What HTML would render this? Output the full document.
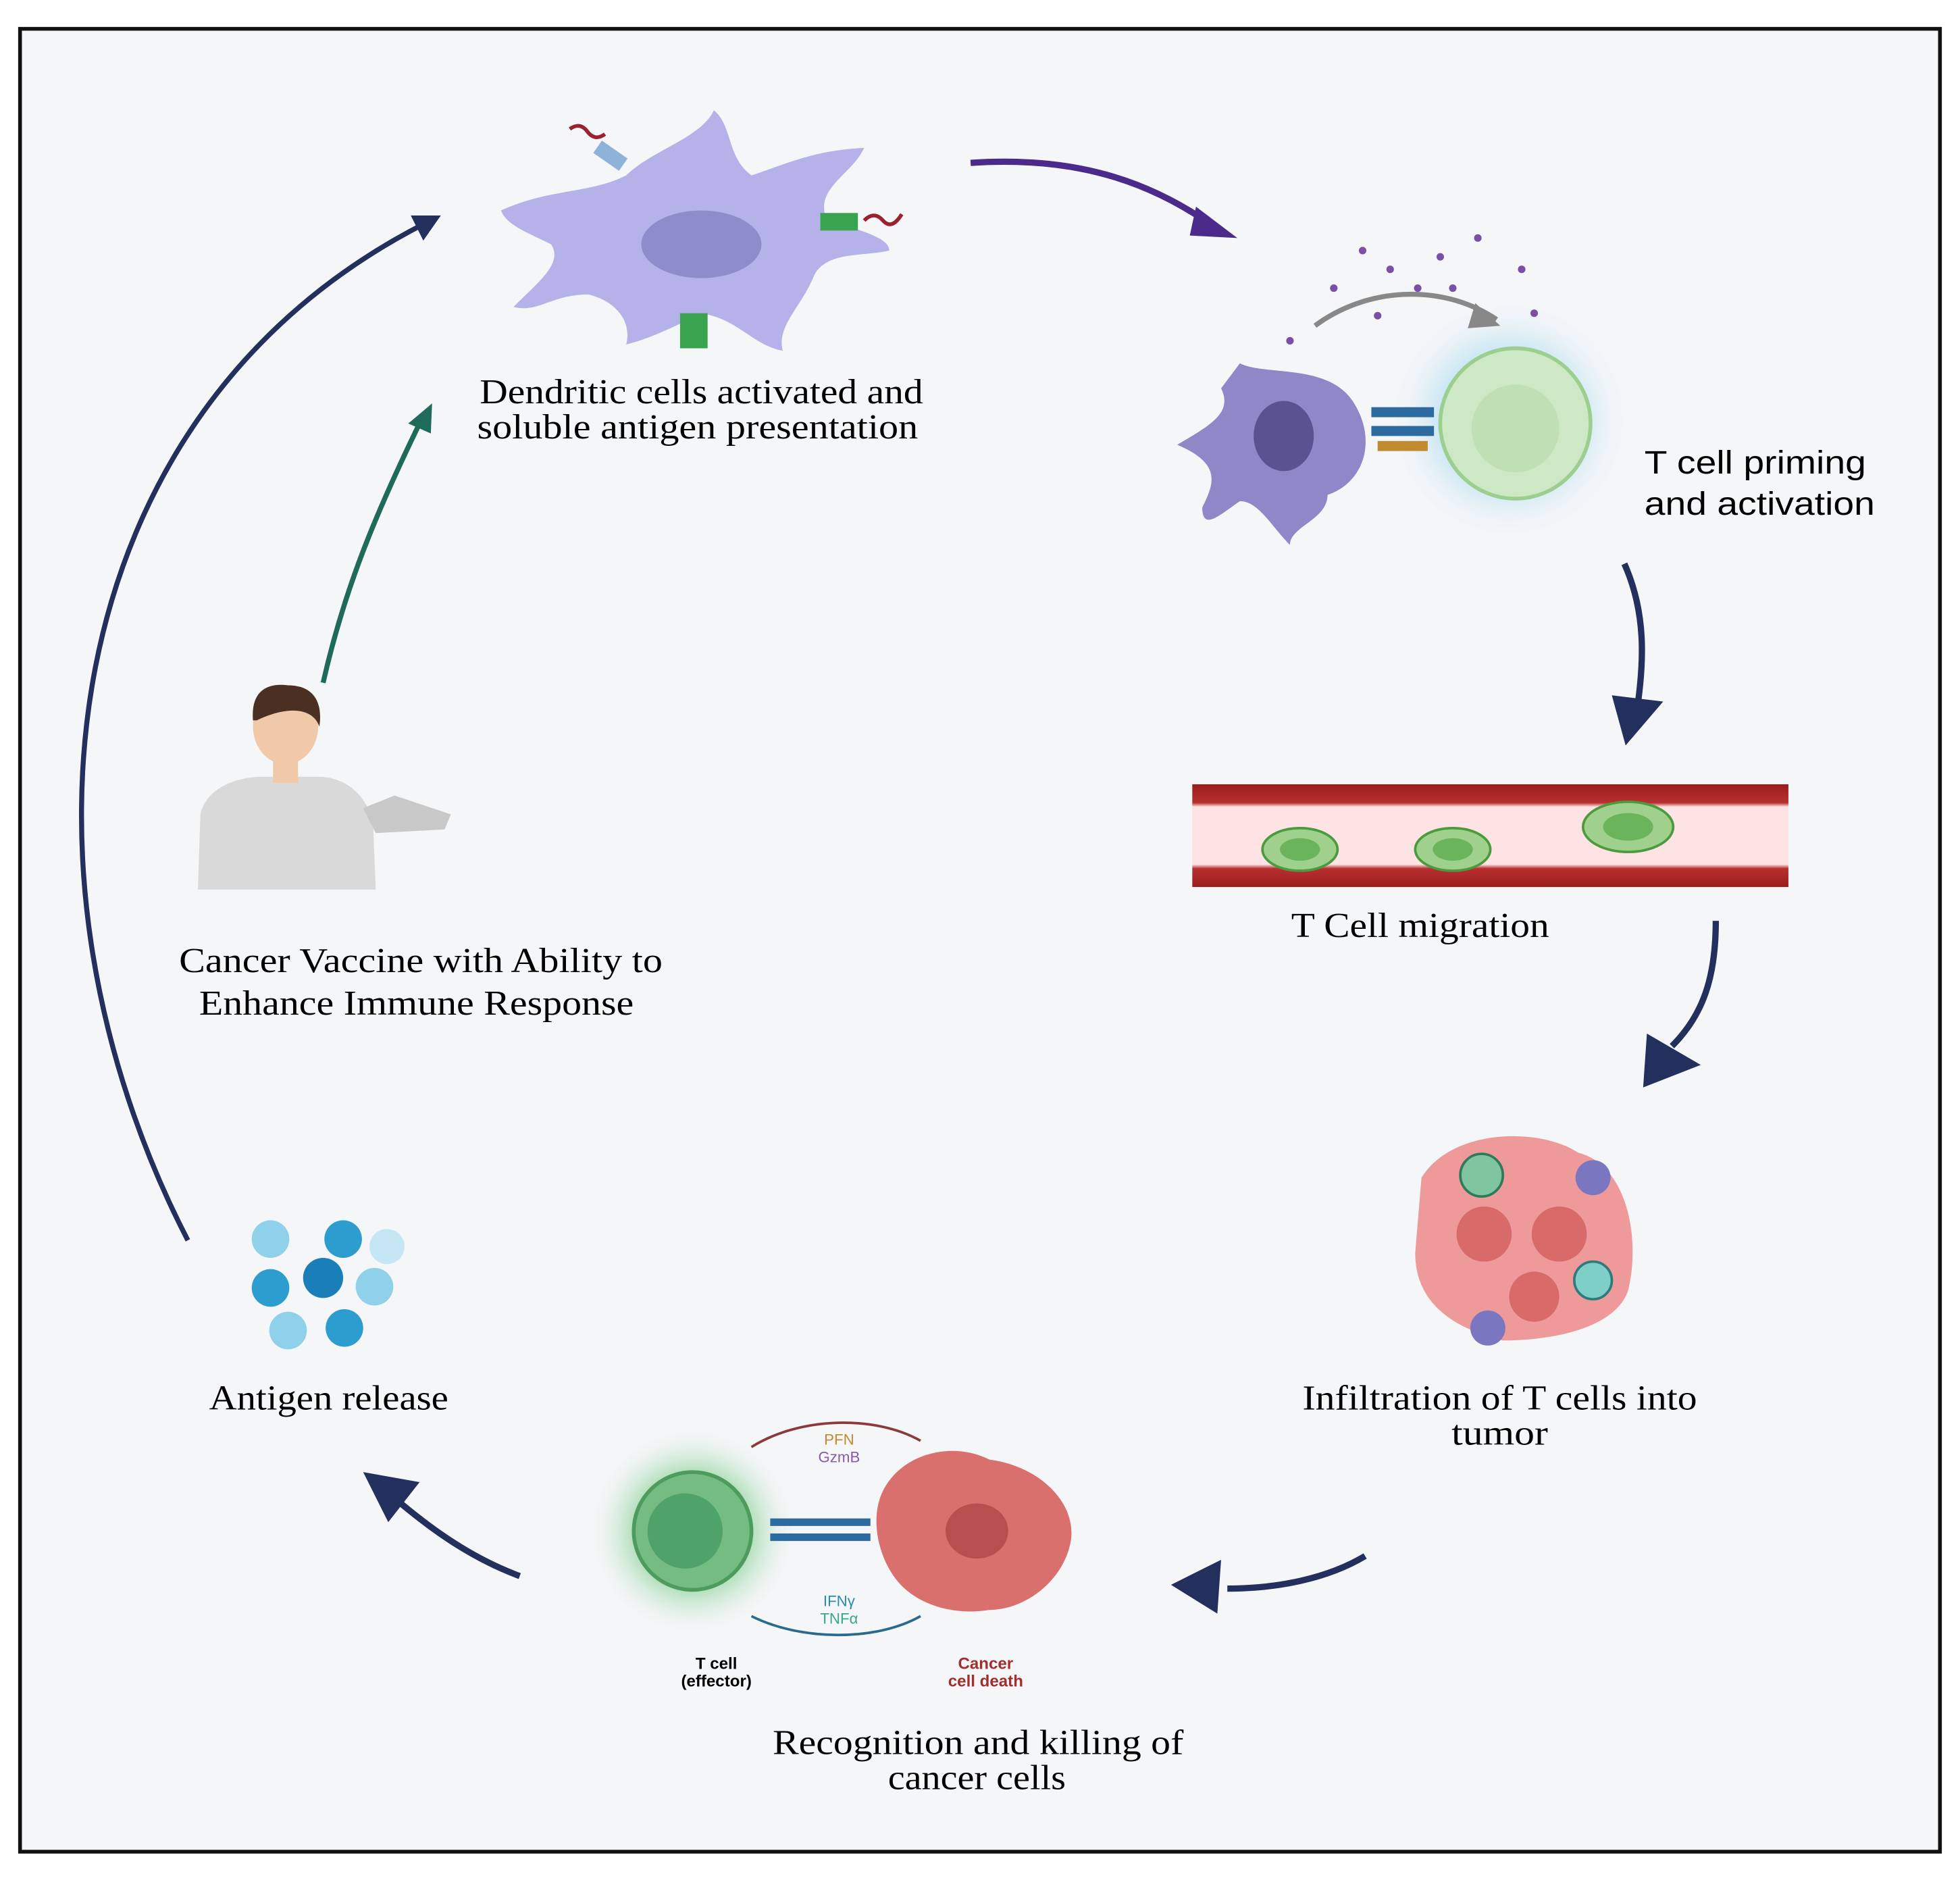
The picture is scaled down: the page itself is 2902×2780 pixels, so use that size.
<!DOCTYPE html>
<html><head><style>
html,body{margin:0;padding:0;background:#fff;}
svg{display:block;}
text{font-family:"Liberation Serif",serif;}
.s{font-family:"Liberation Sans",sans-serif;}
</style></head><body>
<svg width="2902" height="2780" viewBox="0 0 1565 1499" preserveAspectRatio="none" xmlns="http://www.w3.org/2000/svg">
<defs>
<radialGradient id="glow" cx="50%" cy="50%" r="50%"><stop offset="50%" stop-color="#bfe3f2"/><stop offset="100%" stop-color="#f5f6f8" stop-opacity="0"/></radialGradient>
<radialGradient id="gglow" cx="50%" cy="50%" r="50%"><stop offset="45%" stop-color="#8ed39a"/><stop offset="100%" stop-color="#f5f6f8" stop-opacity="0"/></radialGradient>
<linearGradient id="vess" x1="0" y1="0" x2="0" y2="1"><stop offset="0" stop-color="#9b1c1c"/><stop offset="0.18" stop-color="#b83030"/><stop offset="0.22" stop-color="#fde3e3"/><stop offset="0.78" stop-color="#fde3e3"/><stop offset="0.82" stop-color="#b83030"/><stop offset="1" stop-color="#9b1c1c"/></linearGradient>
</defs>
<rect x="0" y="0" width="1565" height="1499" fill="#fff"/>
<rect x="16" y="23" width="1533" height="1455" fill="#f5f6f8" stroke="#111" stroke-width="3"/>

<!-- big arc -->
<path d="M150 990 C 0 700, 40 330, 340 178" fill="none" stroke="#232f5c" stroke-width="4"/>
<polygon points="352,172 328,172 338,192" fill="#232f5c"/>
<!-- green arrow -->
<path d="M258 545 C 275 470, 300 410, 335 338" fill="none" stroke="#1f6b5a" stroke-width="4"/>
<polygon points="345,322 326,338 344,346" fill="#1f6b5a"/>
<!-- top arrow -->
<path d="M775 130 C 850 125, 910 140, 965 178" fill="none" stroke="#4b2a8c" stroke-width="5"/>
<polygon points="988,190 955,165 950,188" fill="#4b2a8c"/>
<!-- right arrows -->
<path d="M1297 450 C 1315 490, 1312 530, 1308 560" fill="none" stroke="#232f5c" stroke-width="5"/>
<polygon points="1287,555 1328,560 1298,595" fill="#232f5c"/>
<path d="M1370 735 C 1370 780, 1360 810, 1335 835" fill="none" stroke="#232f5c" stroke-width="5"/>
<polygon points="1315,825 1358,850 1312,868" fill="#232f5c"/>
<path d="M1090 1242 C 1060 1260, 1020 1268, 980 1268" fill="none" stroke="#232f5c" stroke-width="5"/>
<polygon points="935,1265 975,1245 972,1288" fill="#232f5c"/>
<path d="M415 1258 C 380 1245, 350 1225, 320 1200" fill="none" stroke="#232f5c" stroke-width="5"/>
<polygon points="290,1175 335,1183 310,1215" fill="#232f5c"/>

<!-- dendritic cell -->
<path d="M400 168 C 440 150, 470 155, 500 140 C 520 120, 560 110, 570 88 C 585 100, 580 125, 600 140 C 630 130, 650 120, 690 118 C 680 140, 650 150, 660 175 C 690 185, 710 190, 710 200 C 690 205, 660 200, 650 220 C 640 245, 620 260, 625 280 C 600 275, 590 255, 560 250 C 540 260, 520 270, 500 275 C 505 255, 490 240, 470 235 C 440 235, 430 250, 410 245 C 430 225, 450 210, 440 195 C 420 185, 405 180, 400 168 Z" fill="#b4b2e8"/>
<ellipse cx="560" cy="195" rx="48" ry="27" fill="#8f8ccc"/>
<rect x="655" y="170" width="30" height="14" fill="#3aa350"/>
<rect x="543" y="250" width="22" height="28" fill="#3aa350"/>
<rect x="475" y="118" width="25" height="12" fill="#8fb2d8" transform="rotate(35 487 124)"/>
<path d="M455 103 q8 -6 14 2 t14 2" stroke="#9b2030" stroke-width="3" fill="none"/>
<path d="M690 176 q8 -8 15 0 t15 -5" stroke="#9b2030" stroke-width="3" fill="none"/>
<text x="383" y="322" font-size="28" textLength="354" lengthAdjust="spacingAndGlyphs">Dendritic cells activated and</text>
<text x="381" y="350" font-size="28" textLength="352" lengthAdjust="spacingAndGlyphs">soluble antigen presentation</text>

<!-- T cell priming -->
<circle cx="1205" cy="335" r="100" fill="url(#glow)"/>
<path d="M1050 260 C 1090 230, 1150 225, 1195 255" fill="none" stroke="#888" stroke-width="4"/>
<polygon points="1198,260 1178,242 1172,262" fill="#888"/>
<g fill="#7a4fa6"><circle cx="1030" cy="272" r="3"/><circle cx="1065" cy="230" r="3"/><circle cx="1110" cy="215" r="3"/><circle cx="1150" cy="205" r="3"/><circle cx="1180" cy="190" r="3"/><circle cx="1215" cy="215" r="3"/><circle cx="1100" cy="252" r="3"/><circle cx="1132" cy="230" r="3"/><circle cx="1160" cy="230" r="3"/><circle cx="1088" cy="200" r="3"/><circle cx="1225" cy="250" r="3"/></g>
<path d="M990 290 C 1010 300, 1060 290, 1080 320 C 1100 350, 1090 385, 1060 395 C 1060 415, 1030 420, 1030 435 C 1015 420, 1005 400, 990 400 C 975 410, 960 425, 960 405 C 970 385, 975 370, 940 355 C 965 340, 985 330, 975 310 Z" fill="#8e87c8"/>
<ellipse cx="1025" cy="348" rx="24" ry="28" fill="#5a5392"/>
<circle cx="1210" cy="338" r="60" fill="#cde8c4" stroke="#9ccf8f" stroke-width="3"/>
<circle cx="1210" cy="342" r="35" fill="#bfe0b4"/>
<rect x="1095" y="325" width="50" height="8" fill="#2d6aa0"/><rect x="1095" y="340" width="50" height="8" fill="#2d6aa0"/><rect x="1100" y="352" width="40" height="8" fill="#c08a30"/>
<text class="s" x="1313" y="378" font-size="26" textLength="177" lengthAdjust="spacingAndGlyphs">T cell priming</text>
<text class="s" x="1313" y="411" font-size="26" textLength="184" lengthAdjust="spacingAndGlyphs">and activation</text>

<!-- vessel -->
<rect x="952" y="626" width="476" height="82" fill="url(#vess)"/>
<g fill="#9fd08c" stroke="#4b9a3e" stroke-width="2">
<ellipse cx="1038" cy="678" rx="30" ry="17"/><ellipse cx="1160" cy="678" rx="30" ry="17"/><ellipse cx="1300" cy="660" rx="36" ry="20"/>
</g>
<g fill="#6ab45c"><ellipse cx="1038" cy="678" rx="16" ry="9"/><ellipse cx="1160" cy="678" rx="16" ry="9"/><ellipse cx="1300" cy="660" rx="20" ry="11"/></g>
<text x="1031" y="748" font-size="28" textLength="206" lengthAdjust="spacingAndGlyphs">T Cell migration</text>

<!-- tumor -->
<path d="M1135 940 C 1160 900, 1230 900, 1260 920 C 1300 930, 1310 990, 1300 1030 C 1290 1060, 1240 1070, 1200 1070 C 1160 1060, 1130 1040, 1130 1000 Z" fill="#ee9a9a"/>
<circle cx="1185" cy="985" r="22" fill="#d86a6a"/><circle cx="1245" cy="985" r="22" fill="#d86a6a"/><circle cx="1225" cy="1035" r="20" fill="#d86a6a"/>
<circle cx="1183" cy="938" r="17" fill="#7fc6a0" stroke="#2f7a5a" stroke-width="2"/>
<circle cx="1272" cy="1022" r="15" fill="#7fcfc9" stroke="#2f7a7a" stroke-width="2"/>
<circle cx="1272" cy="940" r="14" fill="#7a76c0"/>
<circle cx="1188" cy="1060" r="14" fill="#7a76c0"/>
<text x="1040" y="1125" font-size="28" textLength="315" lengthAdjust="spacingAndGlyphs">Infiltration of T cells into</text>
<text x="1159" y="1153" font-size="28" textLength="77" lengthAdjust="spacingAndGlyphs">tumor</text>

<!-- recognition -->
<circle cx="553" cy="1222" r="85" fill="url(#gglow)"/>
<circle cx="553" cy="1222" r="47" fill="#74bc82" stroke="#4e9b5e" stroke-width="3"/>
<circle cx="547" cy="1222" r="30" fill="#4ea26a"/>
<rect x="615" y="1212" width="80" height="6" fill="#2d6aa0"/><rect x="615" y="1224" width="80" height="6" fill="#2d6aa0"/>
<path d="M705 1190 C 720 1160, 760 1150, 790 1165 C 830 1170, 860 1200, 855 1230 C 850 1260, 820 1285, 790 1285 C 760 1290, 730 1280, 715 1260 C 700 1240, 695 1210, 705 1190 Z" fill="#d9706e"/>
<ellipse cx="780" cy="1222" rx="25" ry="22" fill="#b84e4e"/>
<path d="M600 1155 C 640 1130, 700 1130, 735 1150" fill="none" stroke="#8a3a3a" stroke-width="2"/>
<path d="M600 1290 C 640 1310, 700 1310, 735 1290" fill="none" stroke="#2a6a8a" stroke-width="2"/>
<text class="s" x="670" y="1153" font-size="12" fill="#c08a30" text-anchor="middle">PFN</text>
<text class="s" x="670" y="1167" font-size="12" fill="#8a5aa8" text-anchor="middle">GzmB</text>
<text class="s" x="670" y="1282" font-size="12" fill="#2a8ab0" text-anchor="middle">IFNγ</text>
<text class="s" x="670" y="1296" font-size="12" fill="#3aa58a" text-anchor="middle">TNFα</text>
<text class="s" x="572" y="1332" font-size="13" font-weight="bold" text-anchor="middle">T cell</text>
<text class="s" x="572" y="1346" font-size="13" font-weight="bold" text-anchor="middle">(effector)</text>
<text class="s" x="787" y="1332" font-size="13" font-weight="bold" fill="#a03030" text-anchor="middle">Cancer</text>
<text class="s" x="787" y="1346" font-size="13" font-weight="bold" fill="#a03030" text-anchor="middle">cell death</text>
<text x="617" y="1400" font-size="28" textLength="328" lengthAdjust="spacingAndGlyphs">Recognition and killing of</text>
<text x="709" y="1428" font-size="28" textLength="142" lengthAdjust="spacingAndGlyphs">cancer cells</text>

<!-- antigen release -->
<g><circle cx="216" cy="989" r="15" fill="#8fd0ea"/><circle cx="274" cy="989" r="15" fill="#2d9ccf"/><circle cx="309" cy="995" r="14" fill="#c5e6f3"/><circle cx="216" cy="1028" r="15" fill="#2d9ccf"/><circle cx="258" cy="1020" r="16" fill="#1a7fb8"/><circle cx="299" cy="1027" r="15" fill="#8fd0ea"/><circle cx="230" cy="1062" r="15" fill="#8fd0ea"/><circle cx="275" cy="1060" r="15" fill="#2d9ccf"/></g>
<text x="167" y="1125" font-size="28" textLength="191" lengthAdjust="spacingAndGlyphs">Antigen release</text>

<!-- person -->
<path d="M158 710 L160 650 C 165 628, 190 620, 210 620 L255 620 C 275 620, 295 635, 298 660 L300 710 Z" fill="#d9d9d9"/>
<rect x="218" y="595" width="20" height="30" fill="#f0c9a8"/>
<ellipse cx="228" cy="580" rx="26" ry="30" fill="#f0c9a8"/>
<path d="M202 575 C 200 550, 215 545, 230 547 C 250 547, 258 560, 255 580 C 250 565, 230 563, 205 575 Z" fill="#4a2f22"/>
<path d="M290 645 L315 635 L360 650 L355 662 L300 665 Z" fill="#c8c8c8"/>
<text x="143" y="776" font-size="28" textLength="386" lengthAdjust="spacingAndGlyphs">Cancer Vaccine with Ability to</text>
<text x="159" y="810" font-size="28" textLength="347" lengthAdjust="spacingAndGlyphs">Enhance Immune Response</text>
</svg>
</body></html>
